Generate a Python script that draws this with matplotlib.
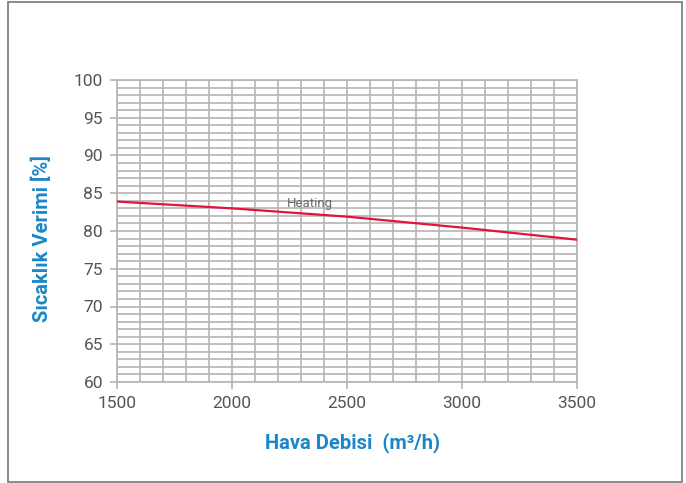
import numpy as np
import matplotlib
matplotlib.use("Agg")
import matplotlib.pyplot as plt
from matplotlib.patches import Rectangle

# Hava debisi (m3/h) ve sicaklik verimi (%)
debi = [1500, 2000, 2500, 3000, 3500]
verim = [83.9, 83.0, 81.9, 80.45, 78.85]
seri_adi = "Heating"

x_ticks = [1500, 2000, 2500, 3000, 3500]
y_ticks = [60, 65, 70, 75, 80, 85, 90, 95, 100]

plt.rcParams['font.family'] = ['Roboto', 'DejaVu Sans']

grid_c = '#b4b4b4'
blue = '#1b86c8'
txt_c = '#555555'

fig = plt.figure(figsize=(6.86, 4.83), dpi=100)
ax = fig.add_axes([117/686, 1-382/483, 460/686, 302/483])

ax.plot(debi, verim, color='#e3123f', lw=1.6, zorder=3)
ax.text(2340, 83.6, seri_adi, fontsize=9.5, color='#6a6a6a', ha='center', va='center')

ax.set_xlim(1500, 3500)
ax.set_ylim(60, 100)
ax.set_xticks(x_ticks)
ax.set_yticks(y_ticks)
ax.set_xticks(np.arange(1500, 3501, 100), minor=True)
ax.set_yticks(np.arange(60, 101, 1), minor=True)
ax.grid(which='both', color=grid_c, lw=1.2)
ax.tick_params(which='minor', length=0)
ax.tick_params(which='major', length=5, width=1.2, color=grid_c,
               labelsize=12.5, labelcolor=txt_c, pad=5)
for s in ax.spines.values():
    s.set_color(grid_c)
    s.set_linewidth(1.2)

ax.set_xlabel("Hava Debisi  (m³/h)", fontsize=14.5, fontweight='bold', color=blue, va='center')
ax.set_ylabel("Sıcaklık Verimi [%]", fontsize=14.5, fontweight='bold', color=blue, va='center')
ax.xaxis.set_label_coords(0.513, -0.202)
ax.yaxis.set_label_coords(-0.163, 0.4735)

# dis cerceve
fig.patches.append(Rectangle((8/686, 1-482/483), 674/686, 480/483, transform=fig.transFigure,
                             fill=False, edgecolor='#777777', lw=1.2))

fig.savefig("out.png", dpi=100)
